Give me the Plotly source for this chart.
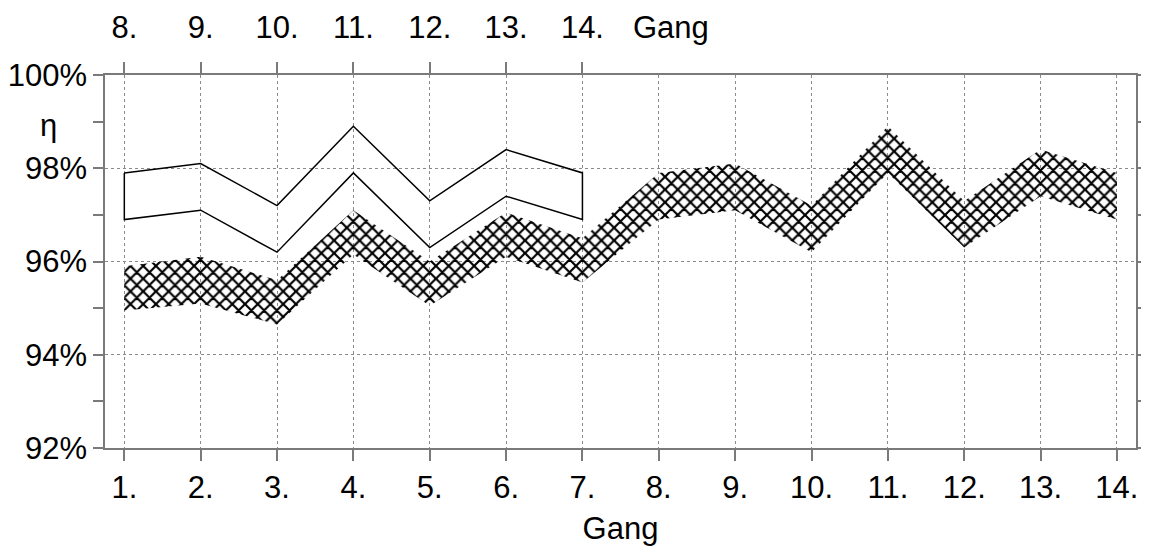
import plotly.graph_objects as go

gears = list(range(1, 15))
gear_labels = [f"{g}." for g in gears]
hatch_lower = [94.95, 95.1, 94.65, 96.15, 95.05, 96.1, 95.55, 96.9, 97.1, 96.2, 97.9, 96.3, 97.4, 96.9]
hatch_upper = [95.9, 96.1, 95.6, 97.1, 96.0, 97.05, 96.5, 97.9, 98.1, 97.2, 98.9, 97.3, 98.4, 97.9]

top_pos = list(range(1, 8))
top_labels = [f"{g}." for g in range(8, 15)]
white_upper = [97.9, 98.1, 97.2, 98.9, 97.3, 98.4, 97.9]
white_lower = [96.9, 97.1, 96.2, 97.9, 96.3, 97.4, 96.9]

y_ticks = [92, 94, 96, 98, 100]
y_labels = ["92%", "94%", "96%", "98%", "100%"]

FONT = "Liberation Sans, Arial, sans-serif"
FS = 31
AX = "#7a7a7a"
GRID = "#8a8a8a"
XR = [0.747, 14.25]
OFF = 8  # default page body margin
W, H = 1149 - OFF, 554 - OFF
L, R, T, B = 105 - OFF, 13, 75 - OFF, 106
PW, PH = W - L - R, H - T - B

fig = go.Figure()
fig.add_trace(go.Scatter(x=gears, y=hatch_lower, mode="lines", line=dict(width=0),
                         showlegend=False, hoverinfo="skip"))
fig.add_trace(go.Scatter(x=gears, y=hatch_upper, mode="lines", line=dict(width=0),
                         fill="tonexty", fillcolor="rgba(0,0,0,0)",
                         fillpattern=dict(shape="x", fgcolor="black", bgcolor="rgba(0,0,0,0)",
                                          size=9, solidity=0.42, fgopacity=1),
                         showlegend=False, hoverinfo="skip"))
fig.add_trace(go.Scatter(x=top_pos + top_pos[::-1] + [top_pos[0]],
                         y=white_upper + white_lower[::-1] + [white_upper[0]],
                         mode="lines", line=dict(color="black", width=1.5),
                         xaxis="x2", showlegend=False, hoverinfo="skip"))

fig.update_layout(
    width=W, height=H,
    margin=dict(l=L, r=R, t=T, b=B, autoexpand=False),
    paper_bgcolor="white", plot_bgcolor="white",
    font=dict(family=FONT, size=FS, color="black"),
    xaxis=dict(range=XR, tickvals=gears, ticktext=gear_labels, automargin=False,
               ticks="outside", ticklen=11, tickcolor=AX, tickwidth=1.5,
               showline=True, linecolor=AX, linewidth=1.5, mirror=True,
               showgrid=True, gridcolor=GRID, griddash="dot", gridwidth=1,
               zeroline=False, ticklabelstandoff=0,
               title=dict(text="Gang", standoff=13, font=dict(size=FS))),
    xaxis2=dict(range=XR, overlaying="x", side="top", anchor="y", automargin=False,
                tickvals=top_pos, ticktext=top_labels,
                ticks="outside", ticklen=12, tickcolor=AX, tickwidth=1.5,
                showline=False, showgrid=False, zeroline=False, ticklabelstandoff=12),
    yaxis=dict(range=[92, 100], tickvals=y_ticks, ticktext=y_labels, automargin=False,
               ticks="outside", ticklen=10, tickcolor=AX, tickwidth=1.5,
               minor=dict(dtick=1, tick0=92, ticks="outside", ticklen=10,
                          tickcolor=AX, tickwidth=1.5, showgrid=False),
               showline=True, linecolor=AX, linewidth=1.5, mirror="allticks",
               showgrid=True, gridcolor=GRID, griddash="dot", gridwidth=1,
               zeroline=False),
)
fig.add_annotation(x=(48 - 105) / PW, xref="paper", y=99, yref="y", text="η", showarrow=False,
                   xanchor="center", yanchor="middle", font=dict(size=FS), yshift=-4)
fig.add_annotation(x=(671 - 105) / PW, xref="paper", y=1 + (75 - 28) / PH, yref="paper",
                   text="Gang", showarrow=False, xanchor="center", yanchor="middle",
                   font=dict(size=FS))

fig.write_html("out.html")
